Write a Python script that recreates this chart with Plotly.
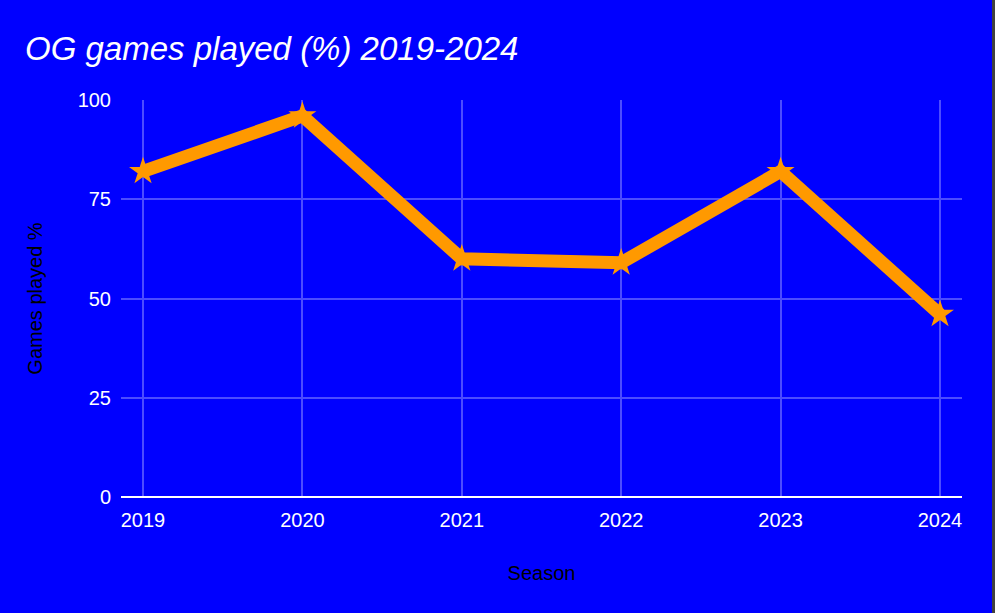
import plotly.graph_objects as go

seasons = [2019, 2020, 2021, 2022, 2023, 2024]
games_played_pct = [82, 96, 60, 59, 82, 46]
y_ticks = [0, 25, 50, 75, 100]

W, H = 992, 613

fig = go.Figure(go.Scatter(
    x=seasons,
    y=games_played_pct,
    mode="lines+markers",
    line=dict(color="#FF9900", width=13),
    marker=dict(symbol="star", size=21, color="#FF9900"),
))

fig.update_layout(
    width=W,
    height=H,
    paper_bgcolor="#0000FF",
    plot_bgcolor="#0000FF",
    font=dict(family="Liberation Sans, Arial", size=20, color="white"),
    title=dict(
        text="<i>OG games played (%) 2019-2024</i>",
        # title position in pixels, converted to container fractions
        x=25 / W, xref="container", xanchor="left",
        y=1 - 48 / H, yref="container", yanchor="middle",
        font=dict(size=33, color="white"),
    ),
    margin=dict(l=121, r=30, t=100, b=116),
    showlegend=False,
)

fig.update_xaxes(
    range=[2018.862, 2024.138],
    tickvals=seasons,
    showgrid=True, gridcolor="#4C4CFF", gridwidth=1.5,
    zeroline=False, showline=False,
    title=dict(text="Season", font=dict(color="black", size=20), standoff=35),
    ticks="", ticklabelstandoff=9,
)
fig.update_yaxes(
    range=[0, 100],
    tickvals=y_ticks,
    showgrid=True, gridcolor="#4C4CFF", gridwidth=1.5,
    zeroline=True, zerolinecolor="white", zerolinewidth=2,
    title=dict(text="Games played %", font=dict(color="black", size=20), standoff=29),
    ticks="", ticklabelstandoff=9,
)

fig.write_html(
    "out.html",
    config={"displayModeBar": False},
    post_script="document.body.style.margin='0';document.body.style.background='#404040';",
)
